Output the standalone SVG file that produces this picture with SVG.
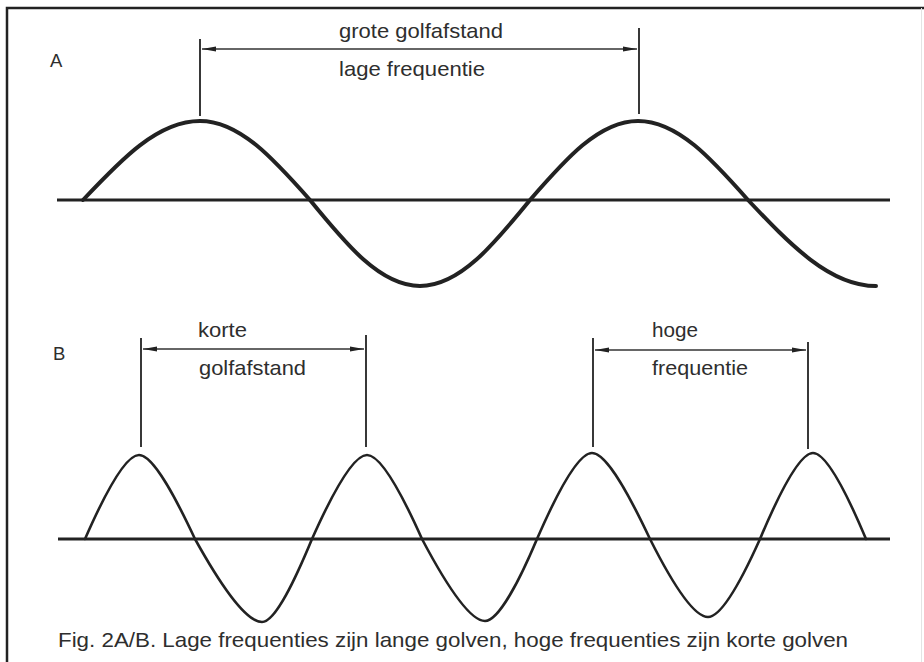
<svg xmlns="http://www.w3.org/2000/svg" width="924" height="662" viewBox="0 0 924 662">
  <style>
    .txt { font-family: "Liberation Sans", Arial, sans-serif; font-size: 21px; fill: #2e2e2e; }
    .lbl { font-family: "Liberation Sans", Arial, sans-serif; font-size: 18.5px; fill: #2e2e2e; }
    .axis { stroke: #222; stroke-width: 3; fill: none; }
    .waveA { stroke: #222; stroke-width: 4; fill: none; stroke-linecap: round; stroke-linejoin: round; }
    .waveB { stroke: #222; stroke-width: 2.6; fill: none; stroke-linecap: round; stroke-linejoin: round; }
    .tick { stroke: #222; stroke-width: 1.8; fill: none; }
    .dim { stroke: #333; stroke-width: 1.3; fill: none; marker-start: url(#arrS); marker-end: url(#arrE); }
  </style>
  <defs>
    <marker id="arrE" viewBox="0 0 14 6" refX="14" refY="3" markerWidth="14" markerHeight="6" markerUnits="userSpaceOnUse" orient="auto">
      <path d="M0,0.6 L14,3 L0,5.4 Z" fill="#222"/>
    </marker>
    <marker id="arrS" viewBox="0 0 14 6" refX="0" refY="3" markerWidth="14" markerHeight="6" markerUnits="userSpaceOnUse" orient="auto">
      <path d="M14,0.6 L0,3 L14,5.4 Z" fill="#222"/>
    </marker>
  </defs>
  <rect width="924" height="662" fill="#ffffff"/>
  <g id="frame">
    <path d="M7,662 L7,8 L924,8" stroke="#222" stroke-width="2.5" fill="none"/>
    <line x1="921.5" y1="8" x2="921.5" y2="662" stroke="#e4e4e4" stroke-width="1"/>
  </g>
  <g id="panelA">
    <text class="lbl" x="50" y="67">A</text>
    <line id="axisA" class="axis" x1="57" y1="200" x2="890" y2="200"/>
    <path id="waveA" class="waveA" d="M83,200 C121.1,159.5 157.6,121 200,121 C239.8,121 274.1,159.5 310,200 C345.9,244.1 380.2,286 420,286 C459.8,286 494.1,244.1 530,200 C565.2,159.5 598.9,121 638,121 C677.8,121 712.1,159.5 748,200 C789.7,244.1 829.7,286 876,286"/>
  </g>
  <g id="panelB">
    <text class="lbl" x="53" y="360">B</text>
    <line id="axisB" class="axis" x1="58" y1="539" x2="890" y2="539"/>
    <path id="waveB" class="waveB" d="M85,539 C102.3,499.5 124.8,455 139,455 C153.6,455 176.5,499.5 195,539 C217.1,578.8 244.2,622 262,622 C275.5,622 295.5,578.8 312,539 C329.6,499.5 352.7,455 367,455 C381.9,455 404.4,499.5 422,539 C442.8,578.4 468.5,621 485,621 C498.9,621 520.4,578.4 537,539 C554.6,498.6 577.5,453 592,453 C607.2,453 630.9,498.6 650,539 C668.6,576 692.6,617 708,617 C721.8,617 743.4,576 760,539 C777,498.6 799.1,453 813,453 C826.9,453 849,498.6 866,539"/>
  </g>
  <g id="connectors">
    <line class="tick" x1="200" y1="39" x2="200" y2="116"/>
    <line class="tick" x1="639" y1="28" x2="639" y2="114"/>
    <line class="dim" x1="202" y1="49" x2="637" y2="49"/>
    <line class="tick" x1="141" y1="338" x2="141" y2="447"/>
    <line class="tick" x1="366" y1="335" x2="366" y2="447"/>
    <line class="dim" x1="143" y1="349" x2="364" y2="349"/>
    <line class="tick" x1="593" y1="338" x2="593" y2="447"/>
    <line class="tick" x1="808" y1="342" x2="808" y2="449"/>
    <line class="dim" x1="595" y1="350" x2="806" y2="350"/>
  </g>
  <g id="labelA">
    <text class="txt" x="339" y="38" textLength="164" lengthAdjust="spacingAndGlyphs">grote golfafstand</text>
    <text class="txt" x="339" y="76" textLength="146" lengthAdjust="spacingAndGlyphs">lage frequentie</text>
  </g>
  <g id="labelB1">
    <text class="txt" x="198" y="337" textLength="49" lengthAdjust="spacingAndGlyphs">korte</text>
    <text class="txt" x="199" y="375" textLength="107" lengthAdjust="spacingAndGlyphs">golfafstand</text>
  </g>
  <g id="labelB2">
    <text class="txt" x="652" y="337" textLength="46" lengthAdjust="spacingAndGlyphs">hoge</text>
    <text class="txt" x="652" y="375" textLength="96" lengthAdjust="spacingAndGlyphs">frequentie</text>
  </g>
  <g id="caption">
    <text class="txt" x="58" y="647" textLength="790" lengthAdjust="spacingAndGlyphs">Fig. 2A/B. Lage frequenties zijn lange golven, hoge frequenties zijn korte golven</text>
  </g>
</svg>
